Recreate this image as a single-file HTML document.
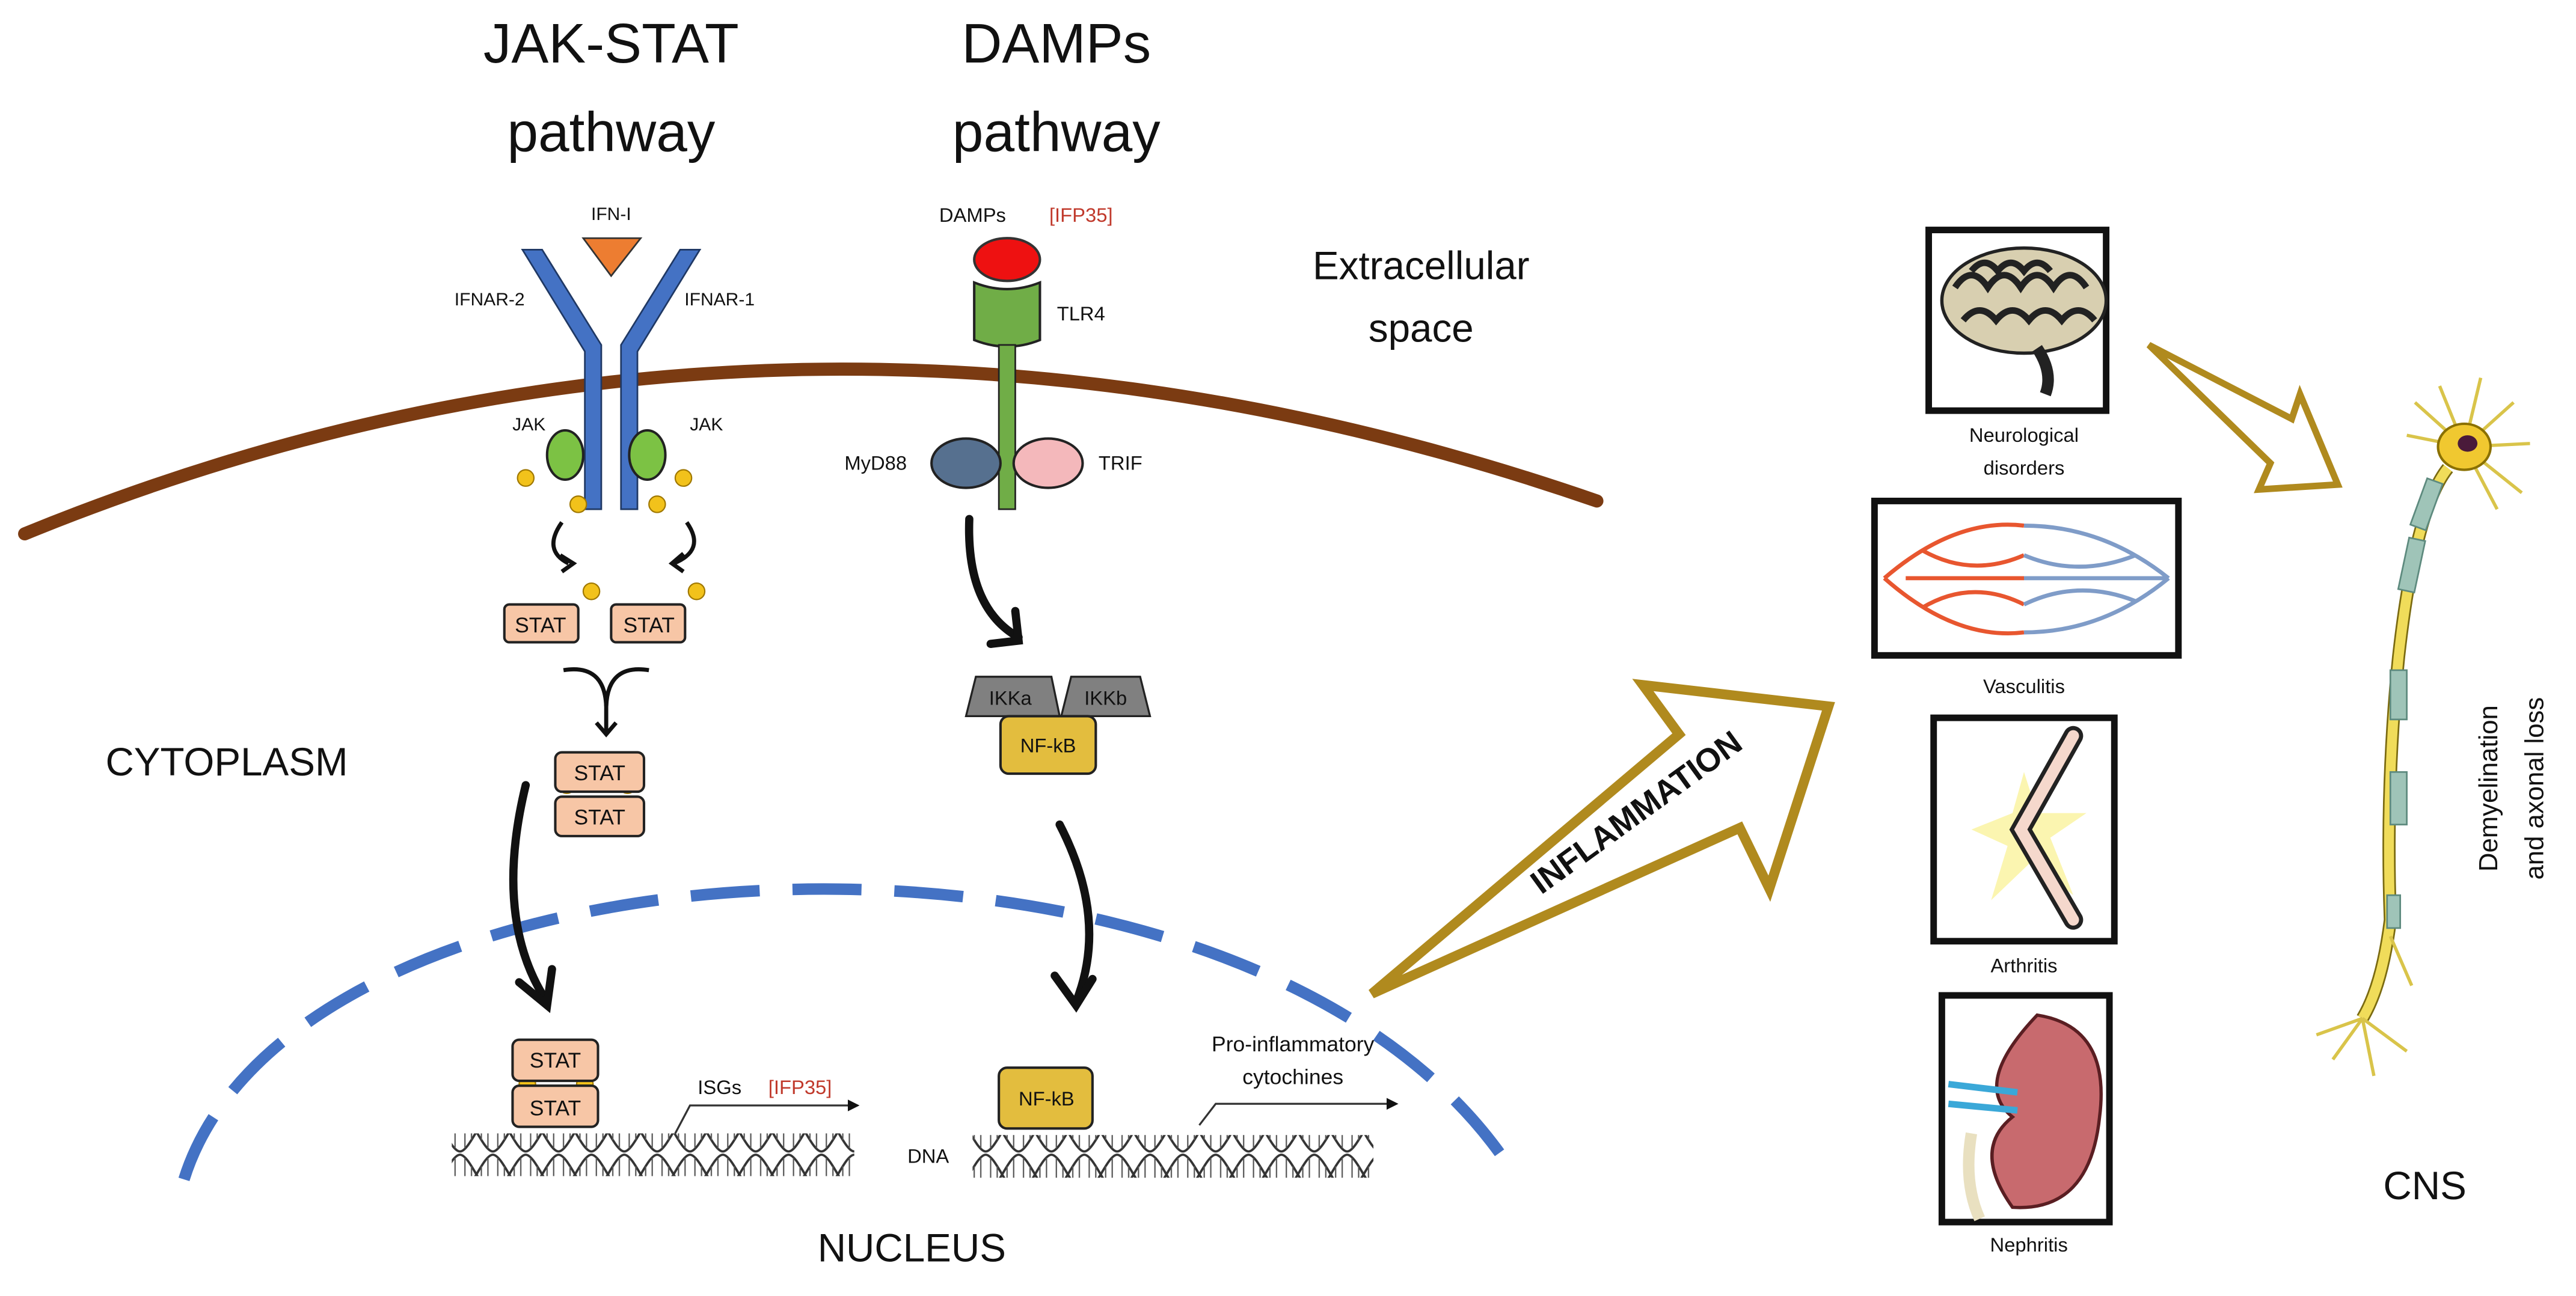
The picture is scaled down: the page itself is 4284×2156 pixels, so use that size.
<!DOCTYPE html>
<html><head><meta charset="utf-8"><style>
html,body{margin:0;padding:0;background:#fff;}
svg{display:block;}
text{font-family:"Liberation Sans",sans-serif;fill:#111;}
</style></head><body>
<svg width="4284" height="2156" viewBox="0 0 1568 789" preserveAspectRatio="none" xmlns="http://www.w3.org/2000/svg">
<defs>
<pattern id="dna" x="0" y="0" width="20" height="26" patternUnits="userSpaceOnUse">
<path d="M0,1 C6,1 14,25 20,25 M0,25 C6,25 14,1 20,1" fill="none" stroke="#333" stroke-width="1.4"/>
<path d="M3,3 V23 M7,8 V18 M13,8 V18 M17,3 V23" stroke="#555" stroke-width="0.8"/>
</pattern>
<marker id="ah" markerWidth="6" markerHeight="6" refX="5" refY="3" orient="auto"><path d="M0,0 L6,3 L0,6 Z" fill="#111"/></marker>
</defs>
<rect width="1568" height="789" fill="#fff"/>

<g font-size="34" text-anchor="middle">
<text x="372" y="38">JAK-STAT</text>
<text x="372" y="92">pathway</text>
<text x="643" y="38">DAMPs</text>
<text x="643" y="92">pathway</text>
</g>
<g font-size="24" text-anchor="middle">
<text x="865" y="170">Extracellular</text>
<text x="865" y="208">space</text>
<text x="138" y="472">CYTOPLASM</text>
<text x="555" y="768">NUCLEUS</text>
<text x="1476" y="730">CNS</text>
</g>

<path d="M15,325 Q480,135 972,305" fill="none" stroke="#7b3b12" stroke-width="8" stroke-linecap="round"/>
<path d="M112,718 C180,500 750,470 915,705" fill="none" stroke="#4472c4" stroke-width="7" stroke-dasharray="42,20"/>

<g font-size="11" text-anchor="middle">
<text x="372" y="134">IFN-I</text>
<text x="298" y="186">IFNAR-2</text>
<text x="438" y="186">IFNAR-1</text>
<text x="322" y="262">JAK</text>
<text x="430" y="262">JAK</text>
</g>
<polygon points="355,145 390,145 372,168" fill="#ed7d31" stroke="#333" stroke-width="1"/>
<polygon points="318,152 330,152 366,210 366,310 356,310 356,214" fill="#4472c4" stroke="#1f3864" stroke-width="1"/>
<polygon points="426,152 414,152 378,210 378,310 388,310 388,214" fill="#4472c4" stroke="#1f3864" stroke-width="1"/>
<ellipse cx="344" cy="277" rx="11" ry="15" fill="#7cc244" stroke="#222" stroke-width="1.5"/>
<ellipse cx="394" cy="277" rx="11" ry="15" fill="#7cc244" stroke="#222" stroke-width="1.5"/>
<g fill="#f2c21b" stroke="#a07800" stroke-width="0.8">
<circle cx="320" cy="291" r="5"/><circle cx="416" cy="291" r="5"/>
<circle cx="352" cy="307" r="5"/><circle cx="400" cy="307" r="5"/>
<circle cx="360" cy="360" r="5"/><circle cx="424" cy="360" r="5"/>
<circle cx="345" cy="478" r="5"/><circle cx="382" cy="478" r="5"/>
<circle cx="321" cy="660" r="5"/><circle cx="356" cy="660" r="5"/>
</g>
<g fill="none" stroke="#111" stroke-width="2.5">
<path d="M342,318 Q330,335 346,343"/><path d="M342,348 L349,343 L341,338"/>
<path d="M418,318 Q430,335 410,343"/><path d="M416,348 L409,343 L416,337"/>
<path d="M343,408 Q368,404 369,430 Q370,404 395,408"/>
<path d="M369,428 V446"/><path d="M363,440 L369,447 L375,440"/>
</g>
<g stroke="#222" stroke-width="1.5" fill="#f7c6a6">
<rect x="307" y="368" width="45" height="23" rx="3"/>
<rect x="372" y="368" width="45" height="23" rx="3"/>
<rect x="338" y="458" width="54" height="24" rx="4"/>
<rect x="338" y="485" width="54" height="24" rx="4"/>
<rect x="312" y="633" width="52" height="25" rx="4"/>
<rect x="312" y="661" width="52" height="25" rx="4"/>
</g>
<g font-size="13" text-anchor="middle">
<text x="329" y="385">STAT</text><text x="395" y="385">STAT</text>
<text x="365" y="475">STAT</text><text x="365" y="502">STAT</text>
<text x="338" y="650">STAT</text><text x="338" y="679">STAT</text>
</g>

<g fill="none" stroke="#111" stroke-width="5" stroke-linecap="round">
<path d="M320,478 Q300,560 333,610"/><path d="M316,598 L333,612 L336,590"/>
<path d="M645,502 Q675,560 655,610"/><path d="M642,594 L655,612 L665,596"/>
<path d="M590,316 Q588,370 620,388"/><path d="M603,392 L620,390 L618,372"/>
</g>

<text x="592" y="135" font-size="12" text-anchor="middle">DAMPs</text>
<text x="658" y="135" font-size="12" text-anchor="middle" style="fill:#c0392b">[IFP35]</text>
<ellipse cx="613" cy="158" rx="20" ry="13" fill="#ee1111" stroke="#333" stroke-width="1.5"/>
<path d="M593,172 Q613,180 633,172 V207 Q613,215 593,207 Z" fill="#70ad47" stroke="#222" stroke-width="1.5"/>
<rect x="608" y="210" width="10" height="100" fill="#70ad47" stroke="#222" stroke-width="1"/>
<ellipse cx="588" cy="282" rx="21" ry="15" fill="#56708f" stroke="#222" stroke-width="1.5"/>
<ellipse cx="638" cy="282" rx="21" ry="15" fill="#f4b8bb" stroke="#222" stroke-width="1.5"/>
<g font-size="12" text-anchor="middle">
<text x="658" y="195">TLR4</text>
<text x="533" y="286">MyD88</text>
<text x="682" y="286">TRIF</text>
</g>
<polygon points="594,412 640,412 645,436 588,436" fill="#808080" stroke="#222" stroke-width="1.2"/>
<polygon points="652,412 694,412 700,436 646,436" fill="#808080" stroke="#222" stroke-width="1.2"/>
<rect x="609" y="436" width="58" height="35" rx="5" fill="#e3bd3e" stroke="#222" stroke-width="1.5"/>
<rect x="608" y="650" width="57" height="37" rx="5" fill="#e3bd3e" stroke="#222" stroke-width="1.5"/>
<g font-size="12" text-anchor="middle">
<text x="615" y="429">IKKa</text><text x="673" y="429">IKKb</text>
<text x="638" y="458">NF-kB</text><text x="637" y="673">NF-kB</text>
</g>

<rect x="275" y="690" width="245" height="26" fill="url(#dna)"/>
<rect x="592" y="691" width="244" height="26" fill="url(#dna)"/>
<text x="565" y="708" font-size="12" text-anchor="middle">DNA</text>
<text x="438" y="666" font-size="12" text-anchor="middle">ISGs</text>
<text x="487" y="666" font-size="12" text-anchor="middle" style="fill:#c0392b">[IFP35]</text>
<path d="M411,690 L420,673 L522,673" fill="none" stroke="#333" stroke-width="1.2" marker-end="url(#ah)"/>
<g font-size="13" text-anchor="middle">
<text x="787" y="640">Pro-inflammatory</text>
<text x="787" y="660">cytochines</text>
</g>
<path d="M730,685 L740,672 L850,672" fill="none" stroke="#333" stroke-width="1.2" marker-end="url(#ah)"/>

<polygon points="835,605 1022,447 1000,417 1113,430 1077,541 1059,504" fill="#fff" stroke="#b08a1e" stroke-width="6" stroke-linejoin="miter"/>
<text x="1000" y="500" font-size="20" font-weight="bold" text-anchor="middle" transform="rotate(-36 1000 500)">INFLAMMATION</text>

<g fill="#fff" stroke="#111" stroke-width="4">
<rect x="1174" y="140" width="108" height="110"/>
<rect x="1141" y="305" width="185" height="94"/>
<rect x="1177" y="437" width="110" height="136"/>
<rect x="1182" y="606" width="102" height="138"/>
</g>
<ellipse cx="1232" cy="183" rx="50" ry="32" fill="#d8cfb0" stroke="#222" stroke-width="2"/>
<path d="M1190,175 q10,-15 20,0 q10,-15 20,0 q10,-15 20,0 q10,-15 20,0 M1195,195 q10,-12 20,0 q10,-12 20,0 q10,-12 20,0 q10,-12 20,0 M1200,165 q8,-10 16,0 q8,-10 16,0 q8,-10 16,0" fill="none" stroke="#222" stroke-width="4"/>
<path d="M1240,212 q10,15 5,28" fill="none" stroke="#222" stroke-width="7"/>
<path d="M1147,352 Q1190,315 1232,320 M1147,352 Q1190,390 1232,385 M1160,352 L1232,352 M1170,335 Q1200,352 1232,338 M1170,370 Q1200,352 1232,368" fill="none" stroke="#e8562f" stroke-width="2.5"/>
<path d="M1232,320 Q1280,320 1320,352 M1232,385 Q1280,385 1320,352 M1232,352 L1320,352 M1232,338 Q1265,352 1300,338 M1232,368 Q1265,352 1300,366" fill="none" stroke="#7f9cc8" stroke-width="2.5"/>
<polygon points="1200,505 1225,495 1232,470 1240,495 1270,495 1248,510 1262,545 1236,525 1212,548 1222,515" fill="#fbf5b0"/>
<path d="M1262,448 L1230,505 L1262,560" fill="none" stroke="#222" stroke-width="12" stroke-linecap="round"/>
<path d="M1262,448 L1230,505 L1262,560" fill="none" stroke="#f5d8cc" stroke-width="7" stroke-linecap="round"/>
<path d="M1240,618 Q1285,625 1278,680 Q1272,738 1225,735 Q1200,700 1225,680 Q1200,660 1240,618 Z" fill="#c86a6e" stroke="#5a1e22" stroke-width="2"/>
<path d="M1186,660 L1228,665 M1186,672 L1228,676" stroke="#3aa8d8" stroke-width="4"/>
<path d="M1200,690 Q1195,720 1205,742" fill="none" stroke="#e9e0c0" stroke-width="7"/>
<g font-size="12" text-anchor="middle">
<text x="1232" y="269">Neurological</text>
<text x="1232" y="289">disorders</text>
<text x="1232" y="422">Vasculitis</text>
<text x="1232" y="592">Arthritis</text>
<text x="1235" y="762">Nephritis</text>
</g>

<polygon points="1308,210 1395,255 1400,240 1423,295 1375,298 1382,282" fill="#fff" stroke="#b08a1e" stroke-width="4"/>

<path d="M1490,285 Q1470,310 1460,400 Q1452,480 1455,560 Q1450,600 1438,620" fill="none" stroke="#7a6a10" stroke-width="8"/>
<path d="M1490,285 Q1470,310 1460,400 Q1452,480 1455,560 Q1450,600 1438,620" fill="none" stroke="#f0dc5a" stroke-width="6"/>
<g fill="#9fc4b8" stroke="#5d8a7e" stroke-width="1">
<rect x="1472" y="292" width="10" height="30" transform="rotate(20 1477 307)"/>
<rect x="1463" y="328" width="10" height="32" transform="rotate(12 1468 344)"/>
<rect x="1455" y="408" width="10" height="30"/>
<rect x="1455" y="470" width="10" height="32"/>
<rect x="1453" y="545" width="8" height="20"/>
</g>
<path d="M1438,620 L1410,630 M1438,620 L1420,645 M1438,620 L1445,655 M1438,620 L1465,640 M1455,570 L1468,600" stroke="#d9c44a" stroke-width="2" fill="none"/>
<path d="M1500,272 L1470,245 M1500,272 L1485,235 M1500,272 L1510,230 M1500,272 L1530,245 M1500,272 L1540,270 M1500,272 L1535,300 M1500,272 L1520,310 M1500,272 L1465,265" stroke="#d9c44a" stroke-width="2" fill="none"/>
<ellipse cx="1500" cy="272" rx="16" ry="14" fill="#f0c830" stroke="#8a7000" stroke-width="1.5"/>
<ellipse cx="1502" cy="270" rx="6" ry="5" fill="#4a1a3a"/>
<g font-size="16" text-anchor="middle">
<text x="1520" y="480" transform="rotate(-90 1520 480)">Demyelination</text>
<text x="1548" y="480" transform="rotate(-90 1548 480)">and axonal loss</text>
</g>
</svg>
</body></html>
